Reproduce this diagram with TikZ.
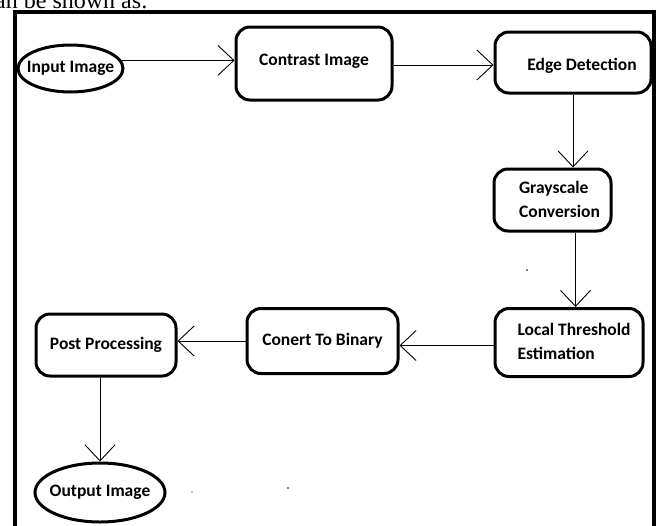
\documentclass[tikz,border=0pt]{standalone}
\usepackage{fontspec}
\setmainfont{Carlito}
\newfontfamily\serifcap{Liberation Serif}
\usetikzlibrary{shapes.geometric,arrows.meta}
\tikzset{
  x=1pt,y=-1pt,
  box/.style={draw,line width=3pt,rounded corners=14pt,align=left,font=\bfseries\fontsize{17.5}{25}\selectfont,inner sep=0pt},
  oval/.style={draw,ellipse,line width=3pt,font=\bfseries\fontsize{17.5}{20}\selectfont,inner sep=0pt},
  conn/.style={line width=0.9pt,-{Straight Barb[length=16pt,width=30pt,line width=0.9pt]}},
  frame/.style={line width=4pt}
}
\begin{document}
\begin{tikzpicture}
\useasboundingbox (0,0) rectangle (663,525);
\begin{scope}
\clip (0,0) rectangle (663,525);
\node[anchor=base west,font=\serifcap\fontsize{24}{24}\selectfont,inner sep=0pt] (cap) at (-5,8) {an be shown as:};
\draw[frame] (15,530) -- (15,12) -- (654,12) -- (654,530);
\end{scope}
\node[oval,minimum width=105,minimum height=47] (in) at (70.5,68.5) {\raisebox{-2pt}{\makebox[0pt]{Input Image}}};
\node[box,minimum width=156,minimum height=73] (contrast) at (314,63.5) {\raisebox{-1.5pt}[0pt][0pt]{Contrast Image}};
\node[box,minimum width=156,minimum height=61] (edge) at (573,62.5) {\hspace*{18pt}\raisebox{-8pt}[0pt][0pt]{Edge Detection}};
\node[box,minimum width=117,minimum height=62] (gray) at (552.5,200) {\hspace*{14pt}\begin{tabular}{@{}l@{}}Grayscale\\[-1pt]Conversion\end{tabular}};
\node[box,minimum width=148,minimum height=68] (local) at (569,342.5) {\hspace*{10pt}\raisebox{-3pt}{\begin{tabular}{@{}l@{}}Local Threshold\\[-1pt]Estimation\end{tabular}}};
\node[box,minimum width=151,minimum height=65] (binary) at (322.5,341) {Conert To Binary};
\node[box,minimum width=140,minimum height=62] (post) at (106,345) {Post Processing};
\node[oval,minimum width=130,minimum height=59] (out) at (100,492.5) {\makebox[0pt]{Output Image}};
\draw[conn] (in.9) -- (in.9 -| contrast.west);
\draw[conn] ([yshift=-1.5pt]contrast.east) -- ([yshift=-1.5pt]contrast.east -| edge.west);
\draw[conn] (edge.south) -- (edge.south |- gray.north);
\draw[conn] (gray.south) ++(23,0) coordinate (g1) -- (g1 |- local.north);
\draw[conn] ([yshift=-3pt]local.west) -- ([yshift=-3pt]local.west -| binary.east);
\draw[conn] (binary.west) -- (binary.west -| post.east);
\draw[conn] (post.south) ++(-6,0) coordinate (p1) -- (p1 |- out.north);
\fill (527,270) circle (0.8pt);
\fill (192,492) circle (0.7pt);
\fill (288,488) circle (0.8pt);
\end{tikzpicture}
\end{document}
